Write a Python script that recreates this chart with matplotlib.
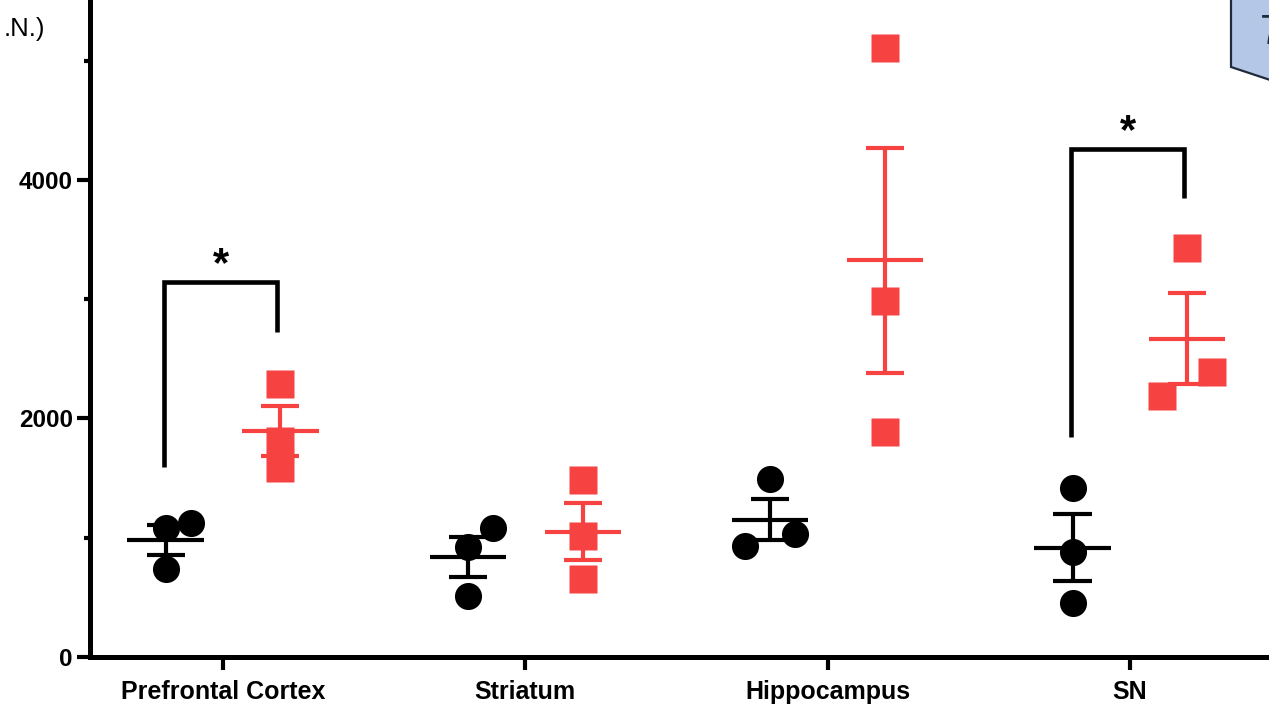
"""
Scatter of individual values with mean +/- SEM per brain region, two groups.
"""
import numpy as np
import matplotlib.pyplot as plt
from matplotlib.patches import Polygon
import matplotlib.ticker as mtick

plt.rcParams["font.family"] = ["Liberation Sans", "DejaVu Sans"]

regions = ["Prefrontal Cortex", "Striatum", "Hippocampus", "SN"]

# individual values (3 per region)
control = [[1082, 1124, 738],
           [922, 1082, 512],
           [1493, 1031, 931],
           [1417, 881, 453]]
treated = [[2289, 1815, 1581],
           [1484, 1015, 654],
           [5107, 2985, 1887],
           [3430, 2390, 2189]]

# horizontal spread of the points inside each column
control_jit = [[0, 1, 0], [0, 1, 0], [0, 1, -1], [0, 0, 0]]
treated_jit = [[0, 0, 0], [0, 0, 0], [0, 0, 0], [0, 1, -1]]

# significance brackets: region index, left foot, top, right foot
brackets = [(0, 1593, 3145, 2725),
            (3, 1845, 4260, 3849)]
stars = ["*", "*"]

black = "black"
red = "#F74242"
dx = 0.19
jit = 0.083

fig = plt.figure(figsize=(12.69, 7.14), dpi=100)
ax = fig.add_axes([90 / 1269, 57 / 714, 1 - 90 / 1269, 1 - 57 / 714])


def column(ax, x0, vals, jits, color, marker):
    vals = np.array(vals, dtype=float)
    m = vals.mean()
    sem = vals.std(ddof=1) / np.sqrt(len(vals))
    # mean line and sem whiskers
    ax.plot([x0 - 0.126, x0 + 0.126], [m, m], color=color, lw=3, solid_capstyle="butt", zorder=2)
    ax.plot([x0, x0], [m - sem, m + sem], color=color, lw=3, solid_capstyle="butt", zorder=2)
    for yy in (m - sem, m + sem):
        ax.plot([x0 - 0.063, x0 + 0.063], [yy, yy], color=color, lw=3, solid_capstyle="butt", zorder=2)
    xs = x0 + np.array(jits) * jit
    ax.plot(xs, vals, ls="none", marker=marker, ms=19.5, color=color, mec="none", zorder=3)


for i in range(len(regions)):
    column(ax, i - dx, control[i], control_jit[i], black, "o")
    column(ax, i + dx, treated[i], treated_jit[i], red, "s")

for (i, y_left, y_top, y_right), s in zip(brackets, stars):
    xl, xr = i - 0.195, i + 0.18
    ax.plot([xl, xl, xr, xr], [y_left, y_top, y_top, y_right], color="black",
            lw=3.3, solid_joinstyle="miter", solid_capstyle="butt", zorder=2)
    ax.text((xl + xr) / 2, y_top - 25, s, ha="center", va="bottom",
            fontsize=30, fontweight="bold")

ax.set_xlim(-0.44, 3.46)
ax.set_ylim(0, 5509)
ax.set_xticks(range(len(regions)))
ax.set_xticklabels(regions, fontsize=18, fontweight="bold")
ax.yaxis.set_major_locator(mtick.MultipleLocator(2000))
ax.yaxis.set_minor_locator(mtick.MultipleLocator(1000))
ax.tick_params(axis="y", which="major", length=9.5, width=3, labelsize=17.5, pad=3)
ax.tick_params(axis="y", which="minor", length=4.5, width=3)
ax.tick_params(axis="x", which="major", length=9.5, width=3, pad=7)
for lab in ax.get_yticklabels():
    lab.set_fontweight("bold")

for side in ["top", "right"]:
    ax.spines[side].set_visible(False)
for side in ["left", "bottom"]:
    ax.spines[side].set_linewidth(3.6)
ax.spines["left"].set_bounds(0, 5509)
ax.spines["bottom"].set_capstyle("projecting")

fig.text(45 / 1269, 1 - 29 / 714, ".N.)", ha="right", va="center", fontsize=18.5)

# corner badge
badge = Polygon([(1231 / 1269, 1.01), (1231 / 1269, 1 - 67 / 714),
                 (1.02, 1 - 88 / 714), (1.02, 1.01)],
                closed=True, transform=fig.transFigure, facecolor="#B4C7E7",
                edgecolor="#1F2A3A", lw=1.6, zorder=5)
fig.patches.append(badge)
fig.text(1260 / 1269, 1 - 44 / 714, "7", ha="left", va="baseline", fontsize=30,
         color="#1F2A3A", zorder=6)

fig.savefig("out.png", dpi=100)
